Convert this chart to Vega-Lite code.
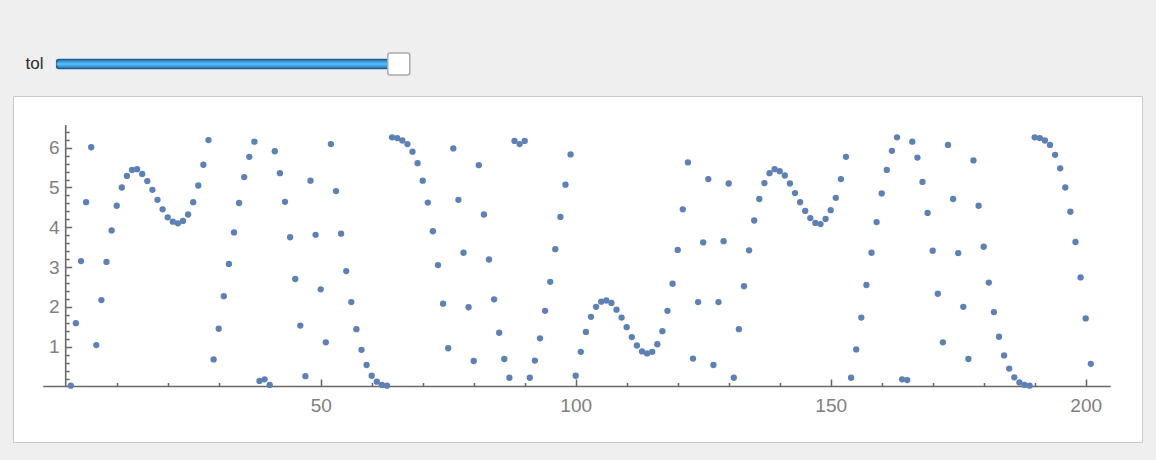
{
  "$schema": "https://vega.github.io/schema/vega-lite/v6.json",
  "background": "#efefef",
  "padding": {"left": 12, "top": 50, "right": 14, "bottom": 18},
  "bounds": "flush",
  "spacing": 21,
  "config": {"view": {"stroke": null}},
  "vconcat": [
    {
      "width": 400,
      "height": 22,
      "view": {"stroke": null},
      "data": {"values": [{"control": "tol", "setting": 1}]},
      "encoding": {
        "y": {"field": "control", "type": "nominal", "scale": {"paddingInner": 0, "paddingOuter": 0},
          "axis": {"title": null, "domain": false, "ticks": false, "tickSize": 0, "labelPadding": 5, "offset": -35,
            "labelFontSize": 17, "labelColor": "#2b2b2b", "labelFont": "Liberation Sans"}},
        "x": {"field": "setting", "type": "quantitative", "scale": {"domain": [-0.1277, 1.0415], "nice": false, "zero": false}, "axis": null}
      },
      "layer": [
        {"mark": {"type": "bar", "size": 9, "fill": "#3a95db", "stroke": "#1f5f90", "strokeWidth": 1.5, "cornerRadius": 2}},
        {"mark": {"type": "bar", "size": 3, "fill": "#5cb3f2"}},
        {"mark": {"type": "point", "shape": "M -0.8,-1 L 0.8,-1 Q 1,-1 1,-0.8 L 1,0.8 Q 1,1 0.8,1 L -0.8,1 Q -1,1 -1,0.8 L -1,-0.8 Q -1,-1 -0.8,-1 Z", "size": 484, "filled": true, "fill": "white", "stroke": "#ababab", "strokeWidth": 1.5, "opacity": 1}}
      ]
    },
    {
      "width": 1129,
      "height": 346,
      "view": {"fill": "white", "stroke": "#c8c8c8"},
      "resolve": {"axis": {"x": "independent", "y": "independent"}},
      "layer": [
        {
          "data": {"values": [{}]},
          "mark": {"type": "rule", "color": "#686868", "strokeWidth": 1.6},
          "encoding": {
            "x": {"datum": -4.4, "type": "quantitative",
              "axis": {"orient": "top", "title": null, "domain": false, "grid": false, "labels": false, "offset": -290.5,
                "values": [10,20,30,40,60,70,80,90,110,120,130,140,160,170,180,190],
                "tickSize": 4, "tickColor": "#666666", "tickWidth": 1.5}},
            "x2": {"datum": 204.9},
            "y": {"datum": 0, "type": "quantitative",
              "axis": {"orient": "right", "title": null, "domain": false, "grid": false, "labels": false, "offset": -1076.3,
                "values": [0.2,0.4,0.6,0.8,1.2,1.4,1.6,1.8,2.2,2.4,2.6,2.8,3.2,3.4,3.6,3.8,4.2,4.4,4.6,4.8,5.2,5.4,5.6,5.8,6.2,6.4],
                "tickSize": 3.5, "tickColor": "#666666", "tickWidth": 1.5}}
          }
        },
        {
          "data": {"values": [{}]},
          "mark": {"type": "rule", "color": "#686868", "strokeWidth": 1.6},
          "encoding": {
            "x": {"datum": 0, "type": "quantitative", "axis": null},
            "y": {"datum": 0, "type": "quantitative", "axis": null},
            "y2": {"datum": 6.57}
          }
        },
        {
          "data": {"values": [
            {"n":1,"phase":0.02},{"n":2,"phase":1.59},{"n":3,"phase":3.15},{"n":4,"phase":4.63},{"n":5,"phase":6.01},
            {"n":6,"phase":1.04},{"n":7,"phase":2.17},{"n":8,"phase":3.13},{"n":9,"phase":3.92},{"n":10,"phase":4.54},
            {"n":11,"phase":5.0},{"n":12,"phase":5.29},{"n":13,"phase":5.44},{"n":14,"phase":5.46},{"n":15,"phase":5.34},
            {"n":16,"phase":5.16},{"n":17,"phase":4.94},{"n":18,"phase":4.69},{"n":19,"phase":4.45},{"n":20,"phase":4.25},
            {"n":21,"phase":4.14},{"n":22,"phase":4.1},{"n":23,"phase":4.16},{"n":24,"phase":4.32},{"n":25,"phase":4.63},
            {"n":26,"phase":5.05},{"n":27,"phase":5.57},{"n":28,"phase":6.19},{"n":29,"phase":0.68},{"n":30,"phase":1.45},
            {"n":31,"phase":2.27},{"n":32,"phase":3.08},{"n":33,"phase":3.87},{"n":34,"phase":4.61},{"n":35,"phase":5.26},
            {"n":36,"phase":5.77},{"n":37,"phase":6.15},{"n":38,"phase":0.14},{"n":39,"phase":0.18},{"n":40,"phase":0.04},
            {"n":41,"phase":5.91},{"n":42,"phase":5.36},{"n":43,"phase":4.64},{"n":44,"phase":3.75},{"n":45,"phase":2.7},
            {"n":46,"phase":1.53},{"n":47,"phase":0.26},{"n":48,"phase":5.17},{"n":49,"phase":3.81},{"n":50,"phase":2.44},
            {"n":51,"phase":1.11},{"n":52,"phase":6.09},{"n":53,"phase":4.91},{"n":54,"phase":3.84},{"n":55,"phase":2.9},
            {"n":56,"phase":2.12},{"n":57,"phase":1.44},{"n":58,"phase":0.92},{"n":59,"phase":0.54},{"n":60,"phase":0.27},
            {"n":61,"phase":0.12},{"n":62,"phase":0.04},{"n":63,"phase":0.02},{"n":64,"phase":6.26},{"n":65,"phase":6.24},
            {"n":66,"phase":6.18},{"n":67,"phase":6.09},{"n":68,"phase":5.9},{"n":69,"phase":5.61},{"n":70,"phase":5.17},
            {"n":71,"phase":4.62},{"n":72,"phase":3.9},{"n":73,"phase":3.05},{"n":74,"phase":2.08},{"n":75,"phase":0.96},
            {"n":76,"phase":5.98},{"n":77,"phase":4.69},{"n":78,"phase":3.36},{"n":79,"phase":1.99},{"n":80,"phase":0.64},
            {"n":81,"phase":5.56},{"n":82,"phase":4.32},{"n":83,"phase":3.19},{"n":84,"phase":2.19},{"n":85,"phase":1.35},
            {"n":86,"phase":0.69},{"n":87,"phase":0.22},{"n":88,"phase":6.17},{"n":89,"phase":6.09},{"n":90,"phase":6.17},
            {"n":91,"phase":0.22},{"n":92,"phase":0.65},{"n":93,"phase":1.21},{"n":94,"phase":1.9},{"n":95,"phase":2.63},
            {"n":96,"phase":3.45},{"n":97,"phase":4.26},{"n":98,"phase":5.07},{"n":99,"phase":5.83},{"n":100,"phase":0.27},
            {"n":101,"phase":0.87},{"n":102,"phase":1.37},{"n":103,"phase":1.75},{"n":104,"phase":2.0},{"n":105,"phase":2.13},
            {"n":106,"phase":2.16},{"n":107,"phase":2.1},{"n":108,"phase":1.93},{"n":109,"phase":1.73},{"n":110,"phase":1.49},
            {"n":111,"phase":1.24},{"n":112,"phase":1.03},{"n":113,"phase":0.88},{"n":114,"phase":0.83},{"n":115,"phase":0.87},
            {"n":116,"phase":1.06},{"n":117,"phase":1.39},{"n":118,"phase":1.9},{"n":119,"phase":2.58},{"n":120,"phase":3.43},
            {"n":121,"phase":4.45},{"n":122,"phase":5.63},{"n":123,"phase":0.7},{"n":124,"phase":2.12},{"n":125,"phase":3.62},
            {"n":126,"phase":5.21},{"n":127,"phase":0.54},{"n":128,"phase":2.12},{"n":129,"phase":3.65},{"n":130,"phase":5.1},
            {"n":131,"phase":0.22},{"n":132,"phase":1.44},{"n":133,"phase":2.52},{"n":134,"phase":3.42},{"n":135,"phase":4.17},
            {"n":136,"phase":4.71},{"n":137,"phase":5.11},{"n":138,"phase":5.36},{"n":139,"phase":5.46},{"n":140,"phase":5.41},
            {"n":141,"phase":5.3},{"n":142,"phase":5.1},{"n":143,"phase":4.86},{"n":144,"phase":4.63},{"n":145,"phase":4.41},
            {"n":146,"phase":4.23},{"n":147,"phase":4.11},{"n":148,"phase":4.08},{"n":149,"phase":4.21},{"n":150,"phase":4.43},
            {"n":151,"phase":4.74},{"n":152,"phase":5.21},{"n":153,"phase":5.77},{"n":154,"phase":0.22},{"n":155,"phase":0.93},
            {"n":156,"phase":1.73},{"n":157,"phase":2.55},{"n":158,"phase":3.36},{"n":159,"phase":4.13},{"n":160,"phase":4.85},
            {"n":161,"phase":5.44},{"n":162,"phase":5.92},{"n":163,"phase":6.26},{"n":164,"phase":0.18},{"n":165,"phase":0.16},
            {"n":166,"phase":6.15},{"n":167,"phase":5.75},{"n":168,"phase":5.14},{"n":169,"phase":4.36},{"n":170,"phase":3.41},
            {"n":171,"phase":2.33},{"n":172,"phase":1.11},{"n":173,"phase":6.07},{"n":174,"phase":4.71},{"n":175,"phase":3.35},
            {"n":176,"phase":2.0},{"n":177,"phase":0.69},{"n":178,"phase":5.68},{"n":179,"phase":4.54},{"n":180,"phase":3.51},
            {"n":181,"phase":2.61},{"n":182,"phase":1.87},{"n":183,"phase":1.25},{"n":184,"phase":0.78},{"n":185,"phase":0.45},
            {"n":186,"phase":0.23},{"n":187,"phase":0.1},{"n":188,"phase":0.04},{"n":189,"phase":0.02},{"n":190,"phase":6.26},
            {"n":191,"phase":6.24},{"n":192,"phase":6.18},{"n":193,"phase":6.07},{"n":194,"phase":5.82},{"n":195,"phase":5.48},
            {"n":196,"phase":5.0},{"n":197,"phase":4.39},{"n":198,"phase":3.63},{"n":199,"phase":2.74},{"n":200,"phase":1.71},
            {"n":201,"phase":0.57}
          ]},
          "mark": {"type": "point", "filled": true, "size": 40, "color": "#5e81b5", "opacity": 1},
          "encoding": {
            "x": {"field": "n", "type": "quantitative",
              "scale": {"domain": [-10.333, 211.04], "nice": false, "zero": false},
              "axis": {"orient": "bottom", "title": null, "domain": false, "grid": false, "offset": -56,
                "values": [50,100,150,200],
                "tickSize": -7, "tickColor": "#666666", "tickWidth": 1.5,
                "labelPadding": 17, "labelFont": "Liberation Sans", "labelFontSize": 19, "labelColor": "#808080",
                "labelOverlap": false, "labelFlush": false, "labelBound": false}},
            "y": {"field": "phase", "type": "quantitative",
              "scale": {"domain": [-1.395, 7.298], "nice": false, "zero": false},
              "axis": {"orient": "left", "title": null, "domain": false, "grid": false, "offset": -52.7,
                "values": [1,2,3,4,5,6],
                "tickSize": -6, "tickColor": "#666666", "tickWidth": 1.5,
                "labelPadding": 12.5, "labelFont": "Liberation Sans", "labelFontSize": 19, "labelColor": "#808080",
                "labelOverlap": false, "labelFlush": false, "labelBound": false}}
          }
        }
      ]
    }
  ]
}
